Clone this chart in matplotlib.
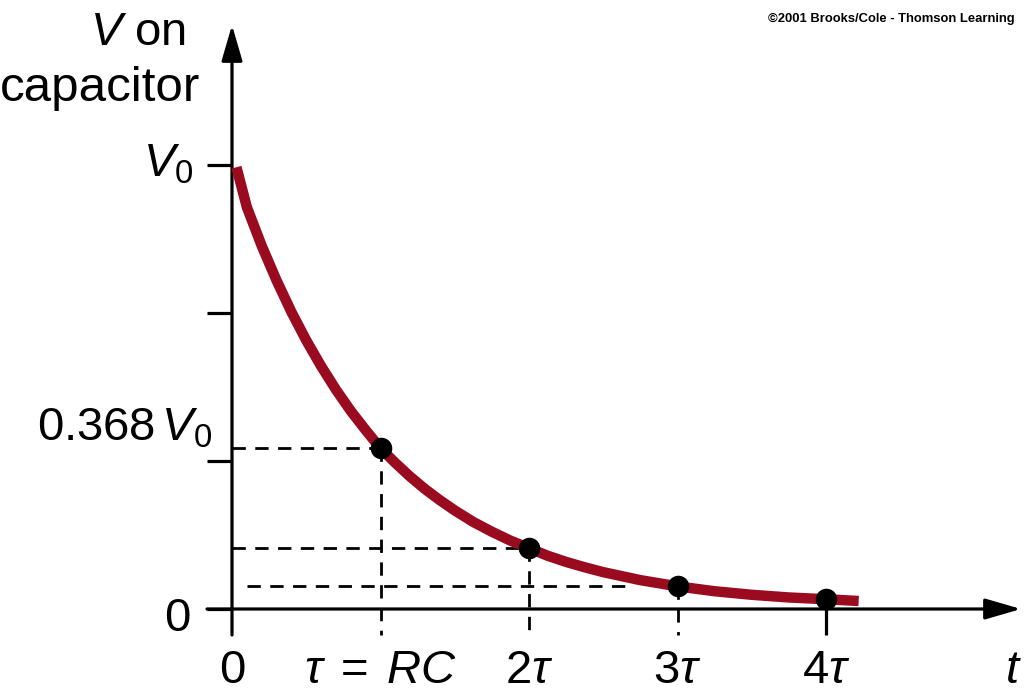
import matplotlib
matplotlib.use("Agg")
import matplotlib.pyplot as plt

plt.rcParams['font.family'] = ['Liberation Sans', 'DejaVu Sans']
plt.rcParams['mathtext.fontset'] = 'custom'
plt.rcParams['mathtext.rm'] = 'Liberation Sans'
plt.rcParams['mathtext.it'] = 'Liberation Sans:italic'

# ---- data (t in units of tau, V in units of V0) ----
t_curve = [0.03, 0.1, 0.2, 0.3, 0.4, 0.5, 0.6, 0.7, 0.8, 0.9, 1.0, 1.1, 1.2,
           1.3, 1.4, 1.5, 1.625, 1.75, 1.875, 2.0, 2.125, 2.25, 2.375, 2.5,
           2.75, 3.0, 3.25, 3.5, 3.75, 4.0, 4.22]
v_curve = [0.995, 0.905, 0.818, 0.740, 0.669, 0.605, 0.547, 0.494, 0.446,
           0.403, 0.362, 0.329, 0.298, 0.270, 0.245, 0.222, 0.196, 0.174,
           0.154, 0.137, 0.120, 0.106, 0.094, 0.083, 0.065, 0.051, 0.040,
           0.032, 0.026, 0.022, 0.018]
t_dots = [1, 2, 3, 4]
v_dots = [0.362, 0.137, 0.051, 0.022]
x_tick_pos = [0, 1, 2, 3, 4]
x_tick_labels = ['0', r'$\tau\;=\;RC$', r'$2\tau$', r'$3\tau$', r'$4\tau$']
y_tick_pos = [0, 1/3, 2/3, 1]
y_label_pos = [0, 0.368, 1]
y_label_text = ['0', r'$0.368\,V_0$', r'$V_0$']

W, H = 1024, 699
fig = plt.figure(figsize=(W / 100, H / 100), dpi=100)
ax = fig.add_axes([0, 0, 1, 1])
X0, Y0, SX, SY = 232, 609, 148.5, 444
ax.set_xlim(-X0 / SX, (W - X0) / SX)
ax.set_ylim((Y0 - H) / SY, Y0 / SY)
ax.axis('off')

def px(x):
    return (x - X0) / SX

def py(y):
    return (Y0 - y) / SY

red = '#9a0b1f'
axlw = 2.3
tick_low = py(635)

arrow = dict(arrowstyle='-|>,head_length=1.1,head_width=0.32',
             mutation_scale=20, lw=axlw, color='black', shrinkA=0, shrinkB=0)
ax.annotate('', xy=(0, py(25)), xytext=(0, tick_low), arrowprops=arrow)
ax.annotate('', xy=(px(1021), 0), xytext=(px(207), 0), arrowprops=arrow)

# y ticks (outward)
for yv in y_tick_pos:
    ax.plot([px(207), 0], [yv, yv], color='black', lw=axlw, solid_capstyle='butt')

# dashed guide lines
dash = dict(color='black', lw=2.0, dashes=(4.8, 3.4), dash_capstyle='butt')
ax.plot([0, t_dots[0]], [v_dots[0], v_dots[0]], **dash)
ax.plot([0, t_dots[1]], [v_dots[1], v_dots[1]], **dash)
ax.plot([px(247), 2.68], [v_dots[2], v_dots[2]], **dash)
for tv, vv in zip(t_dots[:3], v_dots[:3]):
    ax.plot([tv, tv], [vv, tick_low], **dash)
ax.plot([t_dots[3], t_dots[3]], [v_dots[3], tick_low], color='black', lw=axlw,
        solid_capstyle='butt')

# curve and dots
ax.plot(t_curve, v_curve, color=red, lw=7.5, solid_capstyle='butt',
        solid_joinstyle='round', zorder=3)
ax.plot(t_dots, v_dots, 'o', color='black', ms=14.5, zorder=4)

fs = 34
# x tick labels
for xv, lab in zip(x_tick_pos, x_tick_labels):
    ax.text(xv, py(683), lab, fontsize=fs, ha='center', va='baseline')
ax.text(px(1013), py(683), r'$t$', fontsize=fs, ha='center', va='baseline')

# y labels
ax.text(px(190), py(631), y_label_text[0], fontsize=fs, ha='right', va='baseline')
ax.text(px(212), py(440), y_label_text[1], fontsize=fs, ha='right', va='baseline')
ax.text(px(194), py(176), y_label_text[2], fontsize=fs, ha='right', va='baseline')

# axis title
ax.text(px(186), py(45), r'$V$ on', fontsize=fs, ha='right', va='baseline')
ax.text(px(0), py(101), 'capacitor', fontsize=35.5, ha='left', va='baseline')

# credit
ax.text(px(1015), py(22), '©2001 Brooks/Cole - Thomson Learning', fontsize=9.4,
        fontweight='bold', ha='right', va='baseline')

fig.savefig('out.png', dpi=100)
